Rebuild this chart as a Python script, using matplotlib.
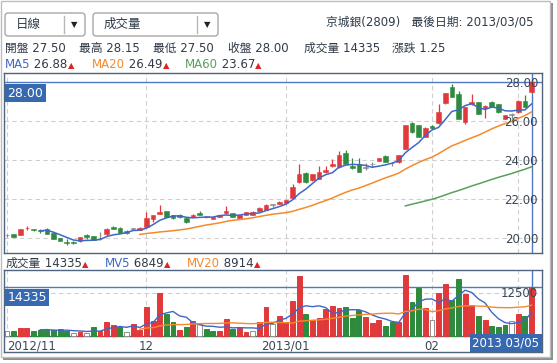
import numpy as np
import pandas as pd
import matplotlib
matplotlib.use('Agg')
import matplotlib.pyplot as plt
from matplotlib.patches import Rectangle, FancyBboxPatch
from matplotlib.transforms import blended_transform_factory

# daily candles, 2012/11/01 .. 2013/03/05
opens = [20.15, 20.20, 20.17, 20.51, 20.44, 20.42, 20.48, 20.29, 20.01, 19.83,
         19.83, 19.85, 20.18, 20.10, 19.95, 20.22, 20.60, 20.54, 20.37, 20.48,
         20.45, 20.60, 20.99, 21.26, 21.40, 21.18, 21.20, 21.06, 21.10, 21.30,
         21.10, 20.99, 21.10, 21.28, 21.28, 21.06, 21.20, 21.20, 21.40, 21.45,
         21.70, 21.78, 21.83, 22.08, 22.87, 23.37, 22.97, 23.04, 23.38, 23.69,
         23.64, 24.36, 23.72, 23.79, 23.60, 23.79, 23.96, 24.24, 23.84, 23.90,
         24.58, 25.90, 25.81, 25.19, 25.78, 25.90, 26.92, 27.78, 27.40, 25.95,
         26.87, 26.97, 26.67, 27.01, 26.87, 26.12, 26.32, 26.46, 27.06, 27.50]
highs = [20.24, 20.22, 20.48, 20.65, 20.47, 20.48, 20.52, 20.31, 20.03, 19.95,
         19.88, 20.07, 20.22, 20.12, 20.30, 20.55, 20.63, 20.56, 20.42, 20.55,
         20.58, 21.37, 21.20, 21.70, 21.42, 21.22, 21.24, 21.08, 21.24, 21.38,
         21.16, 21.09, 21.22, 21.67, 21.30, 21.22, 21.35, 21.38, 21.63, 21.75,
         21.78, 21.90, 21.98, 22.77, 23.79, 23.40, 23.30, 23.73, 23.73, 24.07,
         24.48, 24.53, 24.10, 24.10, 23.84, 23.90, 24.12, 24.26, 23.90, 24.29,
         25.83, 25.95, 25.83, 25.69, 25.80, 26.87, 27.45, 27.90, 27.55, 26.74,
         27.38, 26.99, 26.82, 27.03, 26.89, 26.34, 26.42, 27.08, 27.35, 28.15]
lows = [20.07, 20.06, 20.15, 20.43, 20.35, 20.25, 20.22, 19.94, 19.86, 19.65,
        19.70, 19.83, 19.98, 19.89, 19.92, 20.10, 20.48, 20.25, 20.24, 20.42,
        20.43, 20.58, 20.85, 21.24, 21.08, 21.01, 21.05, 20.80, 21.08, 21.18,
        21.04, 20.97, 21.08, 21.26, 21.09, 20.98, 21.18, 21.18, 21.38, 21.43,
        21.62, 21.76, 21.78, 22.00, 22.85, 22.85, 22.95, 23.02, 23.36, 23.67,
        23.60, 23.79, 23.57, 23.40, 23.50, 23.65, 23.94, 23.91, 23.70, 23.88,
        24.56, 25.41, 25.17, 25.17, 25.58, 25.88, 26.90, 27.24, 26.10, 25.84,
        26.85, 26.37, 26.15, 26.71, 26.44, 26.10, 26.12, 26.44, 26.73, 27.50]
closes = [20.15, 20.08, 20.46, 20.55, 20.42, 20.40, 20.24, 19.96, 19.88, 19.74,
          19.74, 20.05, 20.05, 19.91, 19.95, 20.48, 20.50, 20.27, 20.27, 20.48,
          20.55, 21.03, 21.18, 21.37, 21.10, 21.03, 21.07, 20.82, 21.22, 21.22,
          21.10, 21.07, 21.20, 21.38, 21.11, 21.20, 21.33, 21.33, 21.54, 21.70,
          21.70, 21.86, 21.96, 22.65, 23.28, 22.87, 23.28, 23.38, 23.50, 23.79,
          24.27, 23.81, 23.59, 23.42, 23.60, 23.79, 24.10, 23.93, 23.84, 24.27,
          25.81, 25.43, 25.19, 25.67, 25.67, 26.49, 27.43, 27.26, 26.12, 26.72,
          27.01, 26.39, 26.80, 26.73, 26.46, 26.32, 26.32, 27.06, 26.75, 28.00]
volumes = [1550, 1360, 2330, 2330, 1360, 1650, 1650, 1650, 1940, 1550,
           970, 1160, 970, 2520, 1450, 4170, 3100, 2620, 1260, 3600,
           1800, 8340, 4500, 12600, 6300, 3970, 1740, 2710, 4460, 3390,
           2030, 1450, 1450, 4840, 2030, 2420, 1070, 1450, 3970, 8340,
           3390, 5900, 3950, 10300, 17300, 6450, 4650, 5140, 7750, 8620,
           8200, 8300, 5330, 7700, 5620, 3680, 4650, 3000, 4170, 4170,
           17630, 9790, 13860, 8040, 4550, 12400, 15100, 10470, 16470, 12110,
           9010, 5810, 4650, 3000, 2710, 3300, 4360, 6300, 5910, 14335]

# month starts (candle index); the 03 label is hidden under the date box
month_pos = [0, 21, 42, 64, 77]
month_labels = ['2012/11', '12', '2013/01', '02']
price_ticks = [20, 22, 24, 26, 28]
vol_ticks = [12500]

last_price = 28.00
last_vol = 14335
last_date = '2013 03/05'
title_text = '京城銀(2809)   最後日期: 2013/03/05'
quote_items = ['開盤 27.50', '最高 28.15', '最低 27.50', '收盤 28.00', '成交量 14335', '漲跌 1.25']
ma_legend = [('MA5', '26.88'), ('MA20', '26.49'), ('MA60', '23.67')]
vol_legend = [('成交量', '14335'), ('MV5', '6849'), ('MV20', '8914')]

FONTS = ['DejaVu Sans', 'Noto Sans CJK TC']
plt.rcParams['font.family'] = FONTS

RED = '#e0393b'
GREEN = '#2e8a3d'
GRAY = '#8a8a8a'
TXT = '#2f3b48'
FRAME = '#50637f'
CROSS = '#5079c4'
LABEL_BG = '#3769b0'
GRID = '#cfcfcf'
C_MA5, C_MA20, C_MA60 = '#3f67c6', '#f58a2c', '#58a05e'
C_LEG = [C_MA5, C_MA20, C_MA60]

W, H = 557, 363
fig = plt.figure(figsize=(W / 100, H / 100), dpi=100)


def px_axes(x0, y0, x1, y1, **kw):
    return fig.add_axes([x0 / W, 1 - y1 / H, (x1 - x0) / W, (y1 - y0) / H], **kw)


df = pd.DataFrame(dict(open=opens, high=highs, low=lows, close=closes, vol=volumes))
n = len(df)
idx = np.arange(n)


def moving_avg(s, w):
    return s.rolling(w).mean().where(idx >= w)


# pixel -> data mapping for the candle slots
x0_px, step_px = 7, 6.64
xlim = ((4 - x0_px) / step_px, (542 - x0_px) / step_px)

# ---------- background layer: frame, header ----------
ov = px_axes(0, 0, W, H, zorder=-1)
ov.set_xlim(0, W)
ov.set_ylim(H, 0)
ov.axis('off')
ov.add_patch(Rectangle((3, 3), 550, 357, fc='#8e8e8e', ec='none'))
ov.add_patch(Rectangle((0.5, 0.5), 549, 356, fc='white', ec='#bdbdbd', lw=1))

for (bx0, bx1, sep, label) in [(5, 85, 64, '日線'), (93, 218, 197, '成交量')]:
    ov.add_patch(FancyBboxPatch((bx0, 13), bx1 - bx0, 23, boxstyle='round,pad=0,rounding_size=3',
                                fc='white', ec='#a8a8a8', lw=1))
    ov.plot([sep, sep], [16, 33], color='#b8b8b8', lw=1)
    ov.text(bx0 + 11, 24.5, label, fontsize=9, color=TXT, va='center', ha='left')
    ov.text((sep + bx1) / 2, 24.5, '▼', fontsize=6, color='#222222', va='center', ha='center')

ov.text(534, 22, title_text, fontsize=8.5, color=TXT, ha='right', va='center')

for x, s in zip([5, 79, 153, 228, 304, 392], quote_items):
    ov.text(x, 48.5, s, fontsize=8.5, color=TXT, ha='left', va='center')


def legend_chain(x, y, name, value, color):
    t = ov.text(x, y, name, fontsize=8.5, color=color, ha='left', va='center')
    t = ov.annotate(' ' + value, xy=(1, 0), xycoords=t, fontsize=8.5, color=TXT, ha='left', va='bottom')
    ov.annotate('▲', xy=(1, 0.08), xycoords=t, fontsize=6, color='#e02424', ha='left', va='bottom')


for x, (name, val), c in zip([5, 92, 185], ma_legend, C_LEG):
    legend_chain(x, 64.5, name, val, c)
for x, (name, val), c in zip([6, 105, 187], vol_legend, [TXT, C_MA5, C_MA20]):
    legend_chain(x, 263.5, name, val, c)

# ---------- price chart ----------
ax = px_axes(4, 73, 542, 253)
ax.set_xlim(*xlim)
ax.set_ylim(28 - (253 - 82.3) / 19.5, 28 + (82.3 - 73) / 19.5)
ax.set_xticks([])
ax.set_yticks([])
for sp in ax.spines.values():
    sp.set_color(FRAME)
    sp.set_linewidth(1)

for p in price_ticks[:-1]:
    ax.axhline(p, color=GRID, lw=0.8, ls=(0, (4, 3)), zorder=0)
for m in month_pos:
    ax.axvline(m, color=GRID, lw=0.8, ls=(0, (4, 3)), zorder=0)

up = df.close > df.open
down = df.close < df.open
ccol = np.where(up, RED, np.where(down, GREEN, GRAY))
ax.vlines(idx, df.low, df.high, colors=ccol, lw=0.9, zorder=2)
body_bottom = np.minimum(df.open, df.close)
body_h = np.maximum((df.close - df.open).abs(), 0.035)
ax.bar(idx, body_h, bottom=body_bottom, width=0.7, color=ccol, edgecolor=ccol, lw=0.4, zorder=3)

ax.plot(idx, moving_avg(df.close, 5), color=C_MA5, lw=1.1, zorder=4)
ax.plot(idx, moving_avg(df.close, 20), color=C_MA20, lw=1.1, zorder=4)
ax.plot(idx, moving_avg(df.close, 60), color=C_MA60, lw=1.1, zorder=4)

ax.axhline(last_price, color=CROSS, lw=1, zorder=1.5)
ax.axvline(n - 1, color=CROSS, lw=1, zorder=1.5)

tr = blended_transform_factory(ax.transAxes, ax.transData)
for p in price_ticks:
    ax.text(0.9926, p - 0.05, f'{p:.2f}', transform=tr, fontsize=8.5, color='#3a4654',
            ha='right', va='center', zorder=5)
ax.annotate(f'{last_price:.2f}', xy=(0, last_price), xycoords=tr, xytext=(2.5, -3.2),
            textcoords='offset points', fontsize=9, color='white', ha='left', va='top', zorder=6,
            bbox=dict(boxstyle='square,pad=0.18', fc=LABEL_BG, ec='none'))

# ---------- volume chart ----------
vpp = 290.7  # volume per pixel
vx = px_axes(4, 270, 542, 352)
vx.set_xlim(*xlim)
vx.set_ylim(-(352 - 336) * vpp, (336 - 270) * vpp)
vx.set_xticks([])
vx.set_yticks([])
for sp in vx.spines.values():
    sp.set_color(FRAME)
    sp.set_linewidth(1)

vtop = (336 - 270) * vpp
vx.vlines(month_pos, 0, vtop, colors=GRID, lw=0.8, linestyles=[(0, (4, 3))], zorder=0)
for v in vol_ticks:
    vx.hlines(v, xlim[0], xlim[1], colors=GRID, lw=0.8, linestyles=[(0, (4, 3))], zorder=0)
vx.axhline(0, color=FRAME, lw=1, zorder=1)

chg = df.close.diff()
vface = np.where(chg > 0, RED, np.where(chg < 0, GREEN, 'white'))
vedge = np.where(chg > 0, RED, np.where(chg < 0, GREEN, '#8f8f8f'))
vx.bar(idx, df.vol, width=0.74, color=vface, edgecolor=vedge, lw=0.7, zorder=2)

vx.plot(idx, moving_avg(df.vol, 5), color=C_MA5, lw=1.0, zorder=4)
vx.plot(idx, moving_avg(df.vol, 20), color=C_MA20, lw=1.0, zorder=4)

vx.axhline(last_vol, color=CROSS, lw=1, zorder=1.5)
vx.vlines(n - 1, 0, vtop, colors=CROSS, lw=1, zorder=1.5)

vtr = blended_transform_factory(vx.transAxes, vx.transData)
for v in vol_ticks:
    vx.text(0.9926, v, str(v), transform=vtr, fontsize=8.5, color='#3a4654',
            ha='right', va='center', zorder=5)
vx.annotate(str(last_vol), xy=(0, last_vol), xycoords=vtr, xytext=(2.5, -3.2),
            textcoords='offset points', fontsize=9, color='white', ha='left', va='top', zorder=6,
            bbox=dict(boxstyle='square,pad=0.18', fc=LABEL_BG, ec='none'))

for i, (m, lab) in enumerate(zip(month_pos, month_labels)):
    vx.text(m, -10 * vpp, lab, fontsize=8.5, color='#3a4654',
            ha='left' if i == 0 else 'center', va='center', zorder=5)
vx.annotate(last_date, xy=(1, 0), xycoords='axes fraction', xytext=(-2, 2),
            textcoords='offset points', fontsize=8.5, color='white', ha='right', va='bottom', zorder=7,
            bbox=dict(boxstyle='square,pad=0.2', fc=LABEL_BG, ec='none'))

fig.savefig('out.png', dpi=100)
